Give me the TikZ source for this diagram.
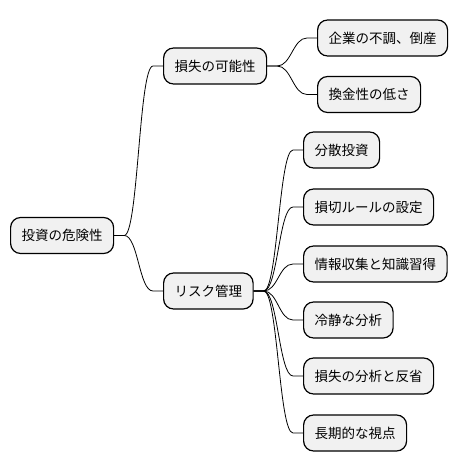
\documentclass[tikz,border=0pt]{standalone}
\usepackage{fontspec}
\setmainfont{Noto Sans CJK JP}
\usepackage{xcolor}
\usetikzlibrary{calc}

\definecolor{boxgray}{HTML}{F1F1F1}

\tikzset{
  topic/.style={draw, line width=1.2pt, fill=boxgray, rounded corners=10pt,
    anchor=west, minimum height=36pt, inner xsep=11pt,
    font=\fontsize{13.5}{16}\selectfont},
  branch/.style={line width=0.8pt}
}

\begin{document}
\begin{tikzpicture}[x=1pt, y=-1pt]
\useasboundingbox (0,0) rectangle (460,471);

% root and first level
\node[topic] (root) at (10,235.5) {投資の危険性};
\node[topic] (loss) at (163,66) {損失の可能性};
\node[topic] (risk) at (163,291) {リスク管理};

% second level
\node[topic] (firm) at (317,38) {企業の不調、倒産};
\node[topic] (cash) at (317,94.5) {換金性の低さ};
\node[topic] (dist) at (303,150) {分散投資};
\node[topic] (stop) at (303,207) {損切ルールの設定};
\node[topic] (info) at (303,264) {情報収集と知識習得};
\node[topic] (calm) at (303,320) {冷静な分析};
\node[topic] (refl) at (303,376) {損失の分析と反省};
\node[topic] (long) at (303,433) {長期的な視点};

% connectors
\foreach \a/\b in {root/loss, root/risk, loss/firm, loss/cash,
                   risk/dist, risk/stop, risk/info, risk/calm, risk/refl, risk/long}
  \draw[branch] (\a.east) -- ++(10,0)
    .. controls +(14,0) and ($(\b.west)+(-24,0)$) .. ($(\b.west)+(-10,0)$) -- (\b.west);
\end{tikzpicture}
\end{document}
